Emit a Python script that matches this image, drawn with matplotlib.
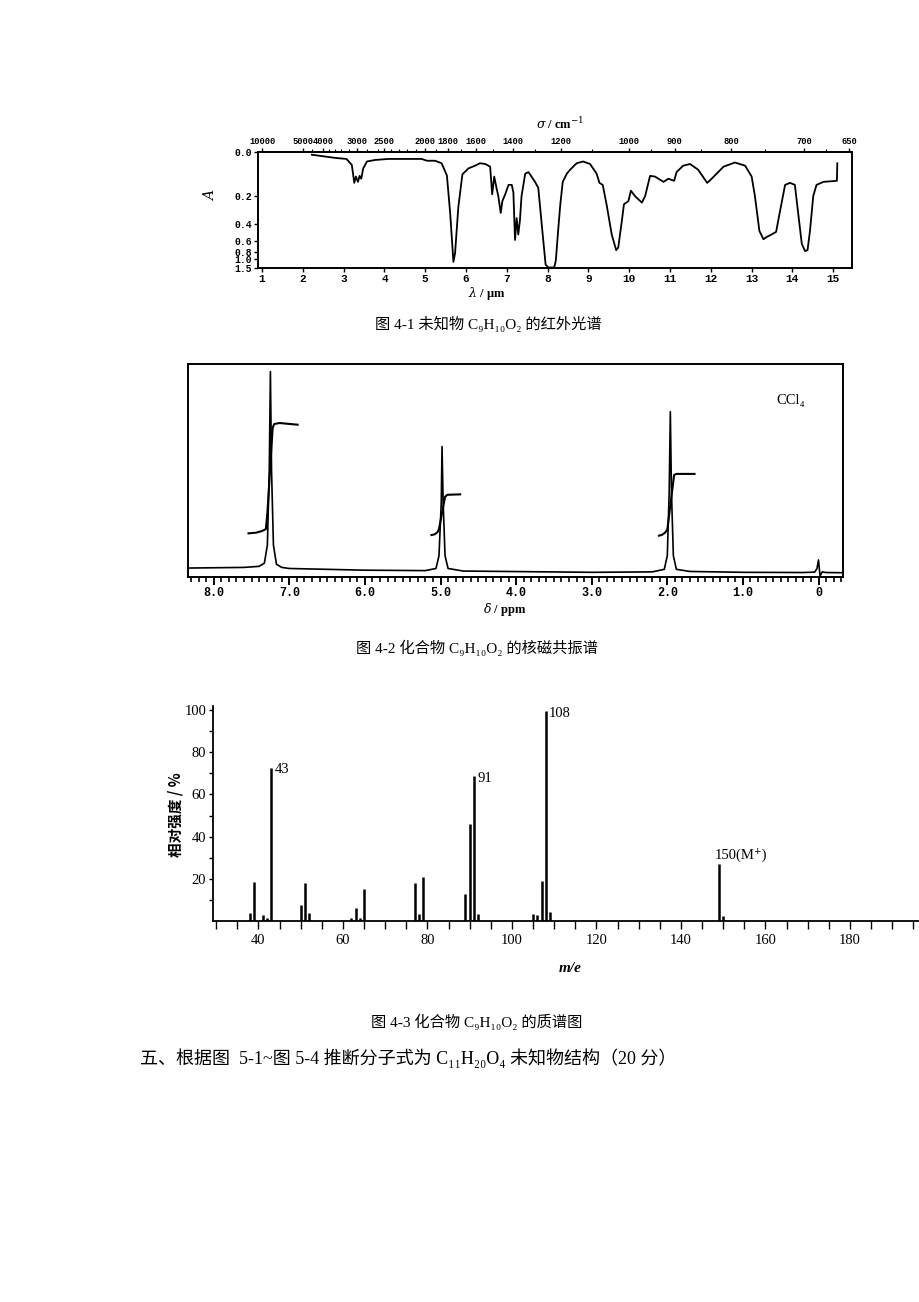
import numpy as np
import matplotlib
matplotlib.use('Agg')
import matplotlib.pyplot as plt
from matplotlib.ticker import MultipleLocator, FixedLocator

plt.rcParams['font.family'] = ['Liberation Serif', 'Noto Sans CJK SC', 'DejaVu Sans']
plt.rcParams['mathtext.fontset'] = 'dejavuserif'

# ---------------- data ----------------
# IR spectrum (wavelength in um, absorbance A)
ir_wavelength = [2.22, 2.79, 3.07, 3.20, 3.26, 3.30, 3.35, 3.39, 3.43, 3.48, 3.57, 3.77,
                 4.10, 4.91, 5.04, 5.24, 5.40, 5.53, 5.61, 5.69, 5.73, 5.81, 5.91, 6.06,
                 6.22, 6.34, 6.47, 6.59, 6.64, 6.69, 6.75, 6.79, 6.85, 6.89, 6.96, 7.04,
                 7.12, 7.16, 7.20, 7.24, 7.28, 7.32, 7.36, 7.45, 7.53, 7.69, 7.77, 7.87,
                 7.95, 8.02, 8.16, 8.20, 8.26, 8.31, 8.37, 8.47, 8.55, 8.71, 8.87, 9.04,
                 9.20, 9.27, 9.35, 9.45, 9.57, 9.68, 9.73, 9.82, 9.87, 9.98, 10.04, 10.14,
                 10.31, 10.39, 10.51, 10.63, 10.84, 10.96, 11.10, 11.16, 11.32, 11.49, 11.69,
                 11.91, 12.02, 12.18, 12.31, 12.59, 12.84, 13.00, 13.08, 13.19, 13.29, 13.37,
                 13.49, 13.60, 13.70, 13.82, 13.94, 14.06, 14.14, 14.23, 14.31, 14.37, 14.43,
                 14.51, 14.59, 14.76, 15.09, 15.10]
ir_absorbance = [0.010, 0.022, 0.026, 0.050, 0.130, 0.100, 0.125, 0.097, 0.110, 0.064, 0.036, 0.030,
                 0.026, 0.026, 0.033, 0.033, 0.043, 0.095, 0.310, 1.100, 0.820, 0.270, 0.090, 0.064,
                 0.053, 0.043, 0.046, 0.057, 0.190, 0.100, 0.160, 0.200, 0.310, 0.230, 0.190, 0.140,
                 0.140, 0.180, 0.580, 0.350, 0.510, 0.370, 0.200, 0.087, 0.080, 0.125, 0.155, 0.470,
                 1.250, 1.500, 1.480, 1.050, 0.450, 0.250, 0.125, 0.087, 0.070, 0.043, 0.036, 0.046,
                 0.087, 0.130, 0.140, 0.260, 0.510, 0.750, 0.700, 0.370, 0.250, 0.230, 0.170, 0.200,
                 0.240, 0.200, 0.097, 0.100, 0.125, 0.110, 0.120, 0.080, 0.053, 0.046, 0.070,
                 0.130, 0.110, 0.080, 0.057, 0.040, 0.053, 0.100, 0.200, 0.470, 0.570, 0.540,
                 0.510, 0.480, 0.290, 0.140, 0.130, 0.140, 0.310, 0.640, 0.770, 0.750, 0.470,
                 0.200, 0.140, 0.125, 0.120, 0.043]
ir_x_ticks = list(range(1, 16))
ir_y_ticks = [0.0, 0.2, 0.4, 0.6, 0.8, 1.0, 1.5]
ir_y_labels = ['0.0', '0.2', '0.4', '0.6', '0.8', '1.0', '1.5']
ir_sigma_ticks = [10000, 5000, 4000, 3000, 2500, 2000, 1800, 1600, 1400, 1200, 1000, 900, 800, 700, 650]
ir_sigma_labels = ['10000', '5000', '4000', '3000', '2500', '2000', '1800', '1600', '1400',
                   '1200', '1000', '900', '800', '700', '650']
ir_sigma_minor = [4500, 3800, 3600, 3400, 3200, 2800, 2600, 2400, 2300, 2200, 2100, 1900,
                  1700, 1500, 1300, 1100, 950, 850, 750, 675]

# 1H NMR spectrum (delta ppm, relative height)
nmr_delta = [8.34, 7.60, 7.40, 7.33, 7.29, 7.265, 7.25, 7.235, 7.21, 7.17, 7.10, 7.00, 6.00,
             5.20, 5.06, 5.02, 4.99, 4.98, 4.965, 4.94, 4.90, 4.70, 3.00, 2.20, 2.04, 2.00,
             1.975, 1.96, 1.945, 1.92, 1.88, 1.70, 1.00, 0.20, 0.05, 0.02, 0.00, -0.02,
             -0.05, -0.10, -0.324]
nmr_intensity = [0.042, 0.045, 0.050, 0.065, 0.150, 0.500, 0.964, 0.500, 0.150, 0.060, 0.045,
                 0.040, 0.032, 0.030, 0.040, 0.100, 0.350, 0.612, 0.350, 0.100, 0.040, 0.028,
                 0.022, 0.024, 0.036, 0.100, 0.400, 0.776, 0.400, 0.100, 0.036, 0.026, 0.022,
                 0.021, 0.023, 0.040, 0.080, 0.005, 0.024, 0.021, 0.020]
nmr_int1_delta = [7.54, 7.44, 7.36, 7.31, 7.29, 7.22, 7.20, 7.13, 6.89]
nmr_int1_value = [0.205, 0.208, 0.216, 0.225, 0.300, 0.700, 0.718, 0.723, 0.715]
nmr_int2_delta = [5.12, 5.08, 5.04, 5.02, 4.94, 4.91, 4.74]
nmr_int2_value = [0.197, 0.200, 0.210, 0.225, 0.376, 0.386, 0.388]
nmr_int3_delta = [2.11, 2.07, 2.03, 2.00, 1.91, 1.88, 1.64]
nmr_int3_value = [0.194, 0.198, 0.208, 0.222, 0.479, 0.484, 0.484]
nmr_ticks = [8, 7, 6, 5, 4, 3, 2, 1, 0]
nmr_tick_labels = ['8.0', '7.0', '6.0', '5.0', '4.0', '3.0', '2.0', '1.0', '0']

# mass spectrum (m/e, relative intensity %)
ms_mz = [38, 39, 41, 42, 43, 50, 51, 52, 62, 63, 64, 65, 77, 78, 79, 89, 90, 91, 92,
         105, 106, 107, 108, 109, 149, 150]
ms_intensity = [3.6, 18.6, 2.7, 1.6, 72.7, 7.5, 17.9, 3.8, 1.6, 6.2, 1.3, 15.4, 17.8, 3.5, 21.0,
                12.9, 46.0, 68.5, 3.1, 3.5, 2.7, 18.9, 99.5, 4.3, 27.0, 2.4]
ms_peak_labels = {43: '43', 91: '91', 108: '108', 149: '150(M\u207A)'}
ms_x_ticks = [40, 60, 80, 100, 120, 140, 160, 180]
ms_y_ticks = [20, 40, 60, 80, 100]

# ---------------- figure ----------------
W, H = 920, 1302
fig = plt.figure(figsize=(W / 100, H / 100), dpi=100)
fig.patch.set_facecolor('white')


def px_axes(l, t, r, b):
    return fig.add_axes([l / W, 1 - b / H, (r - l) / W, (b - t) / H])


def px_text(x, y, s, **kw):
    fig.text(x / W, 1 - y / H, s, **kw)


mono = dict(fontfamily='Liberation Mono', fontweight='bold')

# ---------- IR ----------
ax1 = px_axes(258, 152, 852, 268)
ax1.plot(ir_wavelength, ir_absorbance, color='black', lw=1.3)


def a_fwd(a):
    return 1 - np.power(10.0, -np.asarray(a, float))


def a_inv(t):
    t = np.clip(np.asarray(t, float), -1e9, 0.999999)
    return -np.log10(1 - t)


ax1.set_yscale('function', functions=(a_fwd, a_inv))
ax1.set_ylim(1.55, 0.0)
ax1.set_xlim(0.90, 15.46)
ax1.set_yticks(ir_y_ticks, labels=ir_y_labels, fontsize=7, **mono)
ax1.yaxis.set_minor_locator(FixedLocator([]))
ax1.set_xticks(ir_x_ticks, labels=[str(v) for v in ir_x_ticks], fontsize=8, **mono)
ax1.tick_params(axis='both', direction='out', length=3, width=1.0, pad=1.5)
for s in ax1.spines.values():
    s.set_linewidth(1.4)


def lam2sig(x):
    x = np.asarray(x, float)
    with np.errstate(divide='ignore', invalid='ignore'):
        return 1e4 / x


sec = ax1.secondary_xaxis('top', functions=(lam2sig, lam2sig))
sec.set_xticks(ir_sigma_ticks, labels=ir_sigma_labels, fontsize=6.3, **mono)
sec.xaxis.set_minor_locator(FixedLocator(ir_sigma_minor))
sec.tick_params(axis='x', which='major', direction='out', length=3, width=1.0, pad=1)
sec.tick_params(axis='x', which='minor', direction='out', length=2, width=0.8)
sec.spines['top'].set_linewidth(1.4)

px_text(560, 124, r'$\sigma$ / cm$^{-1}$', fontsize=9, fontweight='bold', ha='center', va='center')
px_text(210, 195, r'$A$', fontsize=10, rotation=90, ha='center', va='center')
px_text(487, 293, r'$\lambda$ / μm', fontsize=9, fontweight='bold', ha='center', va='center')
px_text(488, 324, '图 4-1 未知物 C\u2089H\u2081\u2080O\u2082 的红外光谱', fontsize=11,
        ha='center', va='center')

# ---------- NMR ----------
ax2 = px_axes(188, 364, 843, 577)
ax2.plot(nmr_delta, nmr_intensity, color='black', lw=1.2)
for dd, vv in [(nmr_int1_delta, nmr_int1_value), (nmr_int2_delta, nmr_int2_value),
               (nmr_int3_delta, nmr_int3_value)]:
    ax2.plot(dd, vv, color='black', lw=1.5)
ax2.set_xlim(8.34, -0.324)
ax2.set_ylim(0, 1)
ax2.set_yticks([])
ax2.set_xticks(nmr_ticks, labels=nmr_tick_labels, fontsize=8.5, **mono)
ax2.xaxis.set_minor_locator(MultipleLocator(0.1))
ax2.tick_params(axis='x', which='major', direction='out', length=6, width=1.4, pad=1)
ax2.tick_params(axis='x', which='minor', direction='out', length=3.5, width=1.2)
for s in ax2.spines.values():
    s.set_linewidth(1.4)
ax2.text(0.92, 0.83, 'CCl\u2084', transform=ax2.transAxes, fontsize=10.5, ha='center', va='center')

px_text(505, 609, r'$\delta$ / ppm', fontsize=9, fontweight='bold', ha='center', va='center')
px_text(477, 648, '图 4-2 化合物 C\u2089H\u2081\u2080O\u2082 的核磁共振谱', fontsize=11,
        ha='center', va='center')

# ---------- MS ----------
ax3 = px_axes(213.3, 706, 920, 921)
ax3.vlines(ms_mz, 0, ms_intensity, colors='black', lw=1.8)
ax3.set_xlim(29.3, 196.6)
ax3.set_ylim(0, 101.9)
ax3.spines['top'].set_visible(False)
ax3.spines['right'].set_visible(False)
ax3.spines['left'].set_linewidth(1.3)
ax3.spines['bottom'].set_linewidth(1.3)
ax3.set_xticks(ms_x_ticks, labels=[str(v) for v in ms_x_ticks], fontsize=10.5)
ax3.xaxis.set_minor_locator(MultipleLocator(5))
ax3.set_yticks(ms_y_ticks, labels=[str(v) for v in ms_y_ticks], fontsize=10.5)
ax3.yaxis.set_minor_locator(FixedLocator([10, 30, 50, 70, 90]))
ax3.tick_params(axis='x', which='both', direction='out', length=6, width=1.0, pad=3)
ax3.tick_params(axis='y', which='both', direction='out', length=3, width=1.0, pad=2)
for mz, inten in zip(ms_mz, ms_intensity):
    if mz in ms_peak_labels:
        if mz == 149:
            ax3.text(mz - 1.1, inten + 1.0, ms_peak_labels[mz], fontsize=10.5, ha='left', va='bottom')
        else:
            ax3.text(mz + 0.8, inten - 1.0, ms_peak_labels[mz], fontsize=10.5, ha='left', va='center')

px_text(176, 815, '相对强度 / %', fontsize=10.5, fontweight='bold', rotation=90,
        ha='center', va='center', fontfamily=['Noto Sans CJK SC', 'DejaVu Sans'])
px_text(570, 968, 'm/e', fontsize=11, fontstyle='italic', fontweight='bold', ha='center', va='center')
px_text(477, 1022, '图 4-3 化合物 C\u2089H\u2081\u2080O\u2082 的质谱图', fontsize=11,
        ha='center', va='center')

px_text(140, 1058, '五、根据图  5-1~图 5-4 推断分子式为 C\u2081\u2081H\u2082\u2080O\u2084 未知物结构（20 分）',
        fontsize=13, ha='left', va='center')

fig.savefig('out.png', dpi=100, facecolor='white')
